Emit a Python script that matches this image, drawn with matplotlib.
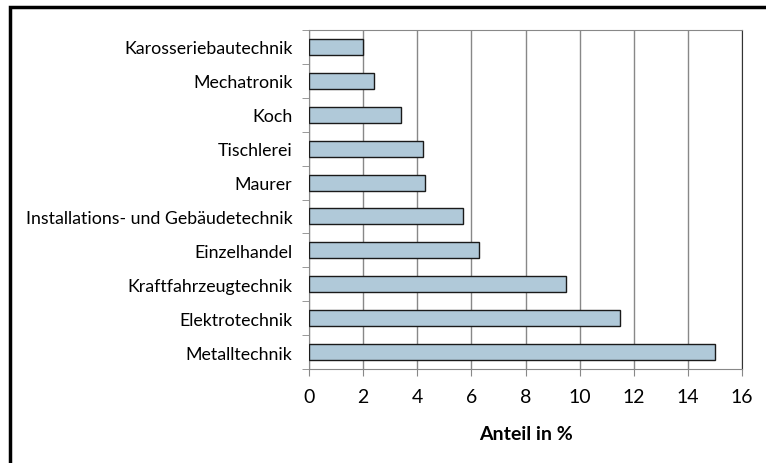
import matplotlib.pyplot as plt
from matplotlib.patches import Rectangle
import numpy as np

# Berufe (von unten nach oben) und Anteil in %
berufe = ["Metalltechnik", "Elektrotechnik", "Kraftfahrzeugtechnik", "Einzelhandel",
          "Installations- und Gebäudetechnik", "Maurer", "Tischlerei", "Koch",
          "Mechatronik", "Karosseriebautechnik"]
anteil = [15.0, 11.5, 9.5, 6.3, 5.7, 4.3, 4.2, 3.4, 2.4, 2.0]
xticks = [0, 2, 4, 6, 8, 10, 12, 14, 16]

plt.rcParams['font.family'] = ['Lato', 'DejaVu Sans']

fig = plt.figure(figsize=(7.66, 4.64), dpi=100)
ax = fig.add_axes([309 / 766, 1 - 370 / 464, (742 - 309) / 766, (370 - 31) / 464])

y = np.arange(len(berufe))
ax.barh(y, anteil, height=0.47, color='#B0C9D9', edgecolor='#1a1a1a', linewidth=1.0, zorder=3)

ax.set_xlim(0, 16)
ax.set_ylim(-0.5, len(berufe) - 0.5)
ax.set_xticks(xticks)
ax.set_xticklabels([str(t) for t in xticks], fontsize=14)
ax.set_yticks(y)
ax.set_yticklabels(berufe, fontsize=12.8)
ax.tick_params(axis='y', length=0, pad=12)
ax.set_yticks(np.arange(-0.5, len(berufe)), minor=True)
ax.tick_params(axis='y', which='minor', length=5, color='#888888', direction='out')
ax.tick_params(axis='x', length=5, color='#888888', direction='out', pad=9)

ax.grid(axis='x', color='#888888', linewidth=1.0, zorder=0)
for side in ['left', 'bottom', 'top']:
    ax.spines[side].set_color('#888888')
ax.spines['right'].set_color('#333333')

ax.set_xlabel("Anteil in %", fontsize=14, fontweight='bold', labelpad=14)

# Rahmen um die Grafik
fig.patches.append(Rectangle((10 / 766, -0.1), 1.2, 1 - 8 / 464 + 0.1, transform=fig.transFigure,
                             fill=False, edgecolor='black', linewidth=2.5))

fig.savefig("out.png", dpi=100)
